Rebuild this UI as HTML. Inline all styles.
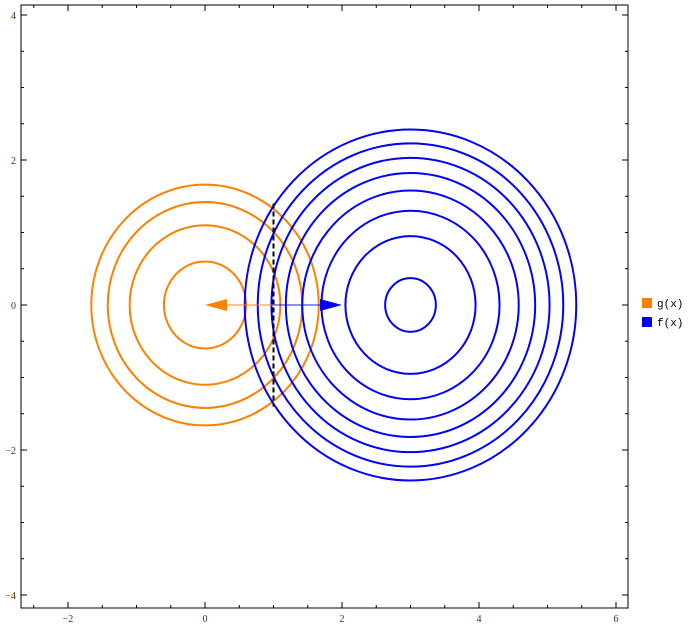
<!DOCTYPE html>
<html><head><meta charset="utf-8"><style>
html,body{margin:0;padding:0;background:#fff;}
svg{display:block;font-family:"Liberation Serif",serif;}
</style></head><body>
<svg id="chart" width="693" height="627" viewBox="0 0 693 627" xmlns="http://www.w3.org/2000/svg">
<rect x="21" y="5" width="607" height="603" fill="none" stroke="#000" stroke-width="1"/>
<g id="ticks"></g>
<g id="marks"></g>
<g>
<rect x="642" y="298" width="10" height="10" fill="#ff7f00"/>
<text x="657" y="307" font-size="11" font-family="Liberation Mono, monospace">g(x)</text>
<rect x="642" y="317" width="10" height="10" fill="#0000ff"/>
<text x="657" y="326" font-size="11" font-family="Liberation Mono, monospace">f(x)</text>
</g>
</svg>
<script>
const xTicks = [-2, 0, 2, 4, 6];
const yTicks = [-4, -2, 0, 2, 4];
const gCenter = [0, 0];
const gRadii = [1.66, 1.42, 1.10, 0.60];
const fCenter = [3, 0];
const fRadii = [2.42, 2.23, 2.03, 1.82, 1.58, 1.30, 0.95, 0.37];
const arrowStart = [1, 0];
const gArrowEnd = [0, 0];
const fArrowEnd = [2, 0];
const dashedX = [1];
const dashedY = [1.4, -1.4];

const sx = v => 205 + v * 68.5;
const sy = v => 305 - v * 72.5;
const NS = 'http://www.w3.org/2000/svg';
const ticksG = document.getElementById('ticks');
const marksG = document.getElementById('marks');
function mk(tag, attrs, parent) {
  const e = document.createElementNS(NS, tag);
  for (const k in attrs) e.setAttribute(k, attrs[k]);
  parent.appendChild(e);
  return e;
}
function lab(v){ return v < 0 ? '\u2212' + Math.abs(v) : String(v); }
for (let v = -2.5; v <= 6.01; v += 0.5) {
  const major = Math.abs(v - Math.round(v)) < 1e-9 && Math.round(v) % 2 === 0;
  const L = major ? 6 : 3;
  const t1 = mk('line', {x1: sx(v), x2: sx(v), y1: 608, y2: 608 - L, stroke: '#000'}, ticksG);
  
  
  mk('line', {x1: sx(v), x2: sx(v), y1: 5, y2: 5 + L, stroke: '#000'}, ticksG);
}
xTicks.forEach(v => {
  const t = mk('text', {x: sx(v), y: 622, 'font-size': 10, 'text-anchor': 'middle', fill: '#5a2a00'}, ticksG);
  t.textContent = lab(v);
  
  
});
for (let v = -4; v <= 4.01; v += 0.5) {
  const major = Math.abs(v - Math.round(v)) < 1e-9 && Math.round(v) % 2 === 0;
  const L = major ? 6 : 3;
  const t1 = mk('line', {y1: sy(v), y2: sy(v), x1: 21, x2: 21 + L, stroke: '#000'}, ticksG);
  
  
  mk('line', {y1: sy(v), y2: sy(v), x1: 628, x2: 628 - L, stroke: '#000'}, ticksG);
}
yTicks.forEach(v => {
  const t = mk('text', {x: 16, y: sy(v) + 4, 'font-size': 10, 'text-anchor': 'end', fill: '#5a2a00'}, ticksG);
  t.textContent = lab(v);
  
  
});
gRadii.forEach(r => {
  const e = mk('ellipse', {cx: sx(gCenter[0]), cy: sy(gCenter[1]), rx: r * 68.5, ry: r * 72.5, fill: 'none', stroke: '#ff8000', 'stroke-width': 2}, marksG);
  
  
});
fRadii.forEach(r => {
  const e = mk('ellipse', {cx: sx(fCenter[0]), cy: sy(fCenter[1]), rx: r * 68.5, ry: r * 72.5, fill: 'none', stroke: '#0000ff', 'stroke-width': 2}, marksG);
  
  
});
function arrow(end, color, name) {
  const x0 = sx(arrowStart[0]), y0 = sy(arrowStart[1]);
  const x1 = sx(end[0]), y1 = sy(end[1]);
  const dir = Math.sign(x1 - x0);
  const hx = x1 - dir * 22;
  const l = mk('line', {x1: x0, y1: y0, x2: hx, y2: y1, stroke: color, 'stroke-width': 1.5, 'stroke-opacity': 0.6}, marksG);
  
  
  const p = mk('polygon', {points: `${x1},${y1} ${hx},${y1 - 6} ${hx},${y1 + 6}`, fill: color}, marksG);
  
  
}
arrow(gArrowEnd, '#ff8000', 'g-arrow');
arrow(fArrowEnd, '#0000ff', 'f-arrow');
const d = mk('line', {x1: sx(dashedX[0]), x2: sx(dashedX[0]), y1: sy(dashedY[0]), y2: sy(dashedY[1]), stroke: '#000', 'stroke-width': 2, 'stroke-dasharray': '5,3'}, marksG);


</script>
</body></html>
